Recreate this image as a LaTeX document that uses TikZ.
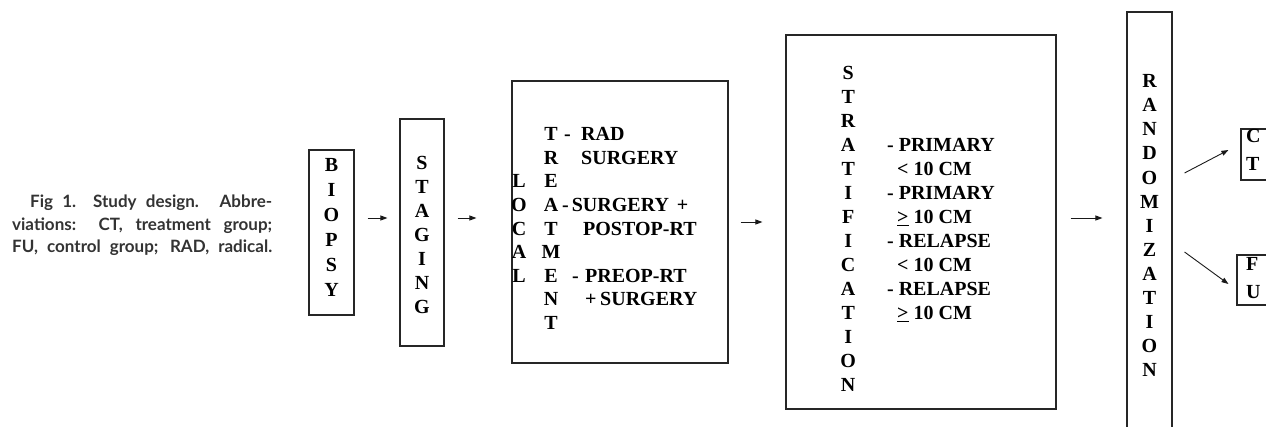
\documentclass[tikz,border=0pt]{standalone}
\usepackage{fontspec}
\setmainfont{Liberation Serif}
\newfontfamily\capfont{Lato}
\usetikzlibrary{arrows.meta,calc}

% a column of letters, baseline of the node = baseline of the first row
\newcommand\letterstack[2]{{\fontsize{20bp}{#1bp}\selectfont\bfseries
  \begin{tabular}[t]{@{}c@{}}#2\end{tabular}}}
\newcommand\leftstack[2]{{\fontsize{20bp}{#1bp}\selectfont\bfseries
  \begin{tabular}[t]{@{}l@{}}#2\end{tabular}}}
\newcommand\ulgt{\underline{>}}

\tikzset{
  stage/.style={draw=black!85, line width=1.1bp, inner sep=0pt},
  txt/.style={inner sep=0pt, anchor=base},
  row/.style={inner sep=0pt, anchor=base west, font=\fontsize{20bp}{24bp}\selectfont\bfseries},
  arr/.style={draw=black!90, line width=0.9bp, -{Triangle[length=7bp,width=5bp]}},
  captext/.style={inner sep=0pt, anchor=base west, text=black!80,
    font=\capfont\bfseries\fontsize{17bp}{23bp}\selectfont}
}

\begin{document}
\begin{tikzpicture}[x=1bp,y=-1bp]
\useasboundingbox (0,0) rectangle (1266,426);
\clip (0,0) rectangle (1266,426);

% caption
\node[captext] (cap1) at (30,207) {\makebox[242bp][s]{Fig 1.\quad Study design. Abbre-}};
\node[captext] (cap2) at (12,230) {\makebox[260bp][s]{viations: CT, treatment group;}};
\node[captext] (cap3) at (12,252) {\makebox[260bp][s]{FU, control group; RAD, radical.}};

% boxes of the flow
\node[stage, minimum width=45bp, minimum height=165bp] (biopsy)   at (331.5,232.5) {};
\node[stage, minimum width=44bp, minimum height=227bp] (staging)  at (422,232.5) {};
\node[stage, minimum width=216bp, minimum height=282bp] (local)   at (620,222) {};
\node[stage, minimum width=270bp, minimum height=374bp] (strat)   at (921,222) {};
\node[stage, minimum width=45bp, minimum height=428bp] (rand)     at (1149.5,226) {};
\node[stage, minimum width=60bp, minimum height=51bp] (ct)        at (1271,154.5) {};
\node[stage, minimum width=64bp, minimum height=50bp] (fu)        at (1269,280) {};

% vertical words
\node[txt] (biopsyt)  at (331.5,171.6) {\letterstack{25}{B\\I\\O\\P\\S\\Y}};
\node[txt] (stagingt) at (422,169.6)   {\letterstack{24}{S\\T\\A\\G\\I\\N\\G}};
\node[txt] (localt)   at (519,187.8)   {\letterstack{23.6}{L\\O\\C\\A\\L}};
\node[txt] (treatt)   at (551,140.6)   {\letterstack{23.6}{T\\R\\E\\A\\T\\M\\E\\N\\T}};
\node[txt] (randt)    at (1149.5,87.6) {\letterstack{24.1}{R\\A\\N\\D\\O\\M\\I\\Z\\A\\T\\I\\O\\N}};
\node[inner sep=0pt, anchor=base west] (ctt) at (1246,142) {\leftstack{28}{C\\T}};
\node[inner sep=0pt, anchor=base west] (fut) at (1246,270) {\leftstack{28.5}{F\\U}};

% local treatment options
\node[row] (o1) at (564,140.6) {-\hspace{10.3bp}RAD};
\node[row] (o2) at (581,164.2) {SURGERY};
\node[row] (o3) at (562,211.4) {-\hspace{3bp}SURGERY\hspace{8bp}+};
\node[row] (o4) at (583,235.0) {POSTOP-RT};
\node[row] (o5) at (572,282.2) {-\hspace{6.3bp}PREOP-RT};
\node[row] (o6) at (585,305.8) {+\hspace{3.6bp}SURGERY};

% stratification
\node[inner sep=0pt, anchor=base west] (stratt) at (840.2,79.6) {%
  {\fontsize{20bp}{24bp}\selectfont\bfseries
  \begin{tabular}[t]{@{}c@{\hspace{31.2bp}}l@{}}
  S\\ T\\ R\\
  A & - PRIMARY\\
  T & \hspace{10bp}< 10 CM\\
  I & - PRIMARY\\
  F & \hspace{10bp}\ulgt{} 10 CM\\
  I & - RELAPSE\\
  C & \hspace{10bp}< 10 CM\\
  A & - RELAPSE\\
  T & \hspace{10bp}\ulgt{} 10 CM\\
  I\\ O\\ N
  \end{tabular}}};

% connectors
\draw[arr] ($(biopsy.east |- 0,218)+(13,0)$) -- ($(staging.west |- 0,218)+(-12,0)$);
\draw[arr] ($(staging.east |- 0,218)+(13,0)$) -- ($(local.west |- 0,218)+(-35,0)$);
\draw[arr] ($(local.east |- 0,222)+(12,0)$) -- ($(strat.west |- 0,222)+(-23,0)$);
\draw[arr] ($(strat.east |- 0,218)+(14,0)$) -- ($(rand.west |- 0,218)+(-24,0)$);
\draw[arr] ($(rand.east |- 0,173)+(12,0)$) -- ($(ct.west |- 0,150)+(-12,0)$);
\draw[arr] ($(rand.east |- 0,252)+(12,0)$) -- ($(fu.west |- 0,284)+(-8,0)$);
\end{tikzpicture}
\end{document}
